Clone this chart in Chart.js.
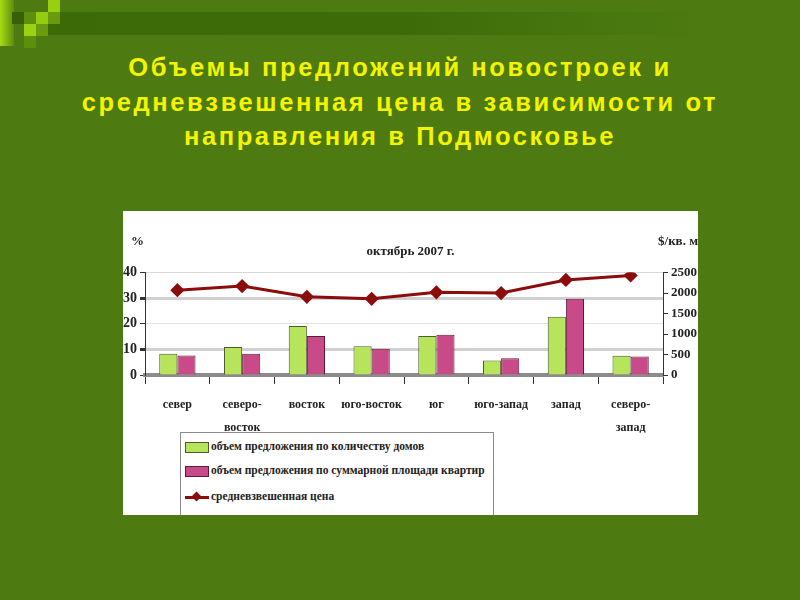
<!DOCTYPE html>
<html>
<head>
<meta charset="utf-8">
<script src="https://cdn.jsdelivr.net/npm/chart.js@4.4.1/dist/chart.umd.min.js"></script>
<style>
  html, body { margin: 0; padding: 0; }
  body { width: 800px; height: 600px; background: #4d7b12; position: relative; overflow: hidden; font-family: "Liberation Sans", Arial, sans-serif; }
  .band { position: absolute; left: 40px; top: 12px; width: 660px; height: 23px; background: linear-gradient(to right, #3b6a06 0%, #3d6b08 55%, #4d7b12 100%); }
  .sq { position: absolute; width: 12px; height: 12px; }
  .fade { position: absolute; left: 0; top: 0; width: 14px; height: 46px; background: linear-gradient(to right, #a6dc12, #5d8c10); }
  h1 { position: absolute; left: 0; top: 50px; width: 800px; margin: 0; text-align: center; color: #f4f400; font-size: 25.5px; letter-spacing: 2.6px; line-height: 34.5px; font-weight: bold; }
  .box { position: absolute; left: 123px; top: 211px; width: 575px; height: 304px; background: #fff; overflow: hidden; }
  .legend { position: absolute; left: 57px; top: 221px; width: 312px; height: 100px; border: 1px solid #8a8a8a; border-bottom: none; background: #fff;
    font-family: "Liberation Serif", serif; font-weight: bold; font-size: 11.5px; color: #222; }
  .legend div { position: absolute; left: 4px; white-space: nowrap; }
  .legend i { display: inline-block; vertical-align: middle; margin-right: 2px; }
</style>
</head>
<body>
<div class="band"></div>
<div class="fade"></div>
<div class="sq" style="left:48px;top:0;background:#98d010"></div>
<div class="sq" style="left:12px;top:12px;background:#386006"></div>
<div class="sq" style="left:24px;top:12px;background:#5d8e0c"></div>
<div class="sq" style="left:36px;top:12px;background:#96cc10"></div>
<div class="sq" style="left:48px;top:12px;background:#6a9a0e"></div>
<div class="sq" style="left:24px;top:24px;background:#9ad212"></div>
<div class="sq" style="left:36px;top:24px;background:#6a9a0e"></div>
<div class="sq" style="left:24px;top:36px;background:#5e8e0e"></div>

<h1>Объемы предложений новостроек и<br>средневзвешенная цена в зависимости от<br>направления в Подмосковье</h1>

<div class="box">
  <canvas id="chart" width="575" height="304"></canvas>
  <div class="legend" id="legend"></div>
</div>

<script>
const directions = [['север'], ['северо-', 'восток'], ['восток'], ['юго-восток'], ['юг'], ['юго-запад'], ['запад'], ['северо-', 'запад']];
const housesShare = [8.3, 10.9, 19.1, 11.2, 15.2, 5.7, 22.8, 7.5];
const areaShare = [7.6, 8.3, 15.2, 10.3, 15.7, 6.5, 29.8, 7.2];
const avgPrice = [2070, 2170, 1910, 1860, 2020, 2000, 2320, 2430];
const seriesNames = [
  'объем предложения по количеству домов',
  'объем предложения по суммарной площади квартир',
  'средневзвешенная цена'
];

const serif = '"Liberation Serif", "Times New Roman", serif';

const sideTexts = {
  id: 'sideTexts',
  afterDraw(chart) {
    const ctx = chart.ctx;
    ctx.save();
    ctx.fillStyle = '#222';
    ctx.font = 'bold 13px ' + serif;
    ctx.textBaseline = 'middle';
    ctx.textAlign = 'left';
    ctx.fillText('%', 8, 31);
    ctx.textAlign = 'right';
    ctx.fillText('$/кв. м', 575, 31);
    ctx.restore();
  }
};

const gridColor = (c) => {
  if (c.tick.value === 10 || c.tick.value === 30) return '#d0d0d0';
  if (c.tick.value === 20) return '#e0e0e0';
  if (c.tick.value === 0) return 'rgba(0,0,0,0)';
  return '#d8d8d8';
};

const chart = new Chart(document.getElementById('chart'), {
  type: 'bar',
  data: {
    labels: directions,
    datasets: [
      {
        type: 'line',
        label: seriesNames[2],
        data: avgPrice,
        yAxisID: 'y2',
        borderColor: '#8c0c0c',
        backgroundColor: '#8c0c0c',
        borderWidth: 3,
        pointStyle: 'rectRot',
        pointRadius: 5,
        tension: 0,
        order: 0
      },
      {
        label: seriesNames[0],
        data: housesShare,
        yAxisID: 'y',
        backgroundColor: '#b6e45a',
        borderColor: '#4f5a30',
        borderWidth: 1,
        order: 1
      },
      {
        label: seriesNames[1],
        data: areaShare,
        yAxisID: 'y',
        backgroundColor: '#c94a88',
        borderColor: '#5e1a3a',
        borderWidth: 1,
        order: 1
      }
    ]
  },
  options: {
    responsive: false,
    animation: false,
    layout: { padding: { left: 0, right: 0, top: 0, bottom: 0 } },
    datasets: { bar: { categoryPercentage: 0.56, barPercentage: 1.0 } },
    plugins: {
      legend: { display: false },
      tooltip: { enabled: false },
      title: {
        display: true,
        text: 'октябрь 2007 г.',
        color: '#222',
        font: { family: serif, size: 13, weight: 'bold' },
        padding: { top: 33, bottom: 13 }
      }
    },
    scales: {
      x: {
        offset: true,
        grid: { offset: true, drawOnChartArea: false, drawTicks: true, tickLength: 9, color: '#333', lineWidth: 1 },
        border: { color: '#8c8c8c', width: 4 },
        ticks: { color: '#222', font: { family: serif, size: 12, weight: 'bold', lineHeight: 1.9 }, padding: 10, maxRotation: 0, autoSkip: false },
        afterFit(scale) { scale.height = 140; }
      },
      y: {
        position: 'left',
        min: 0, max: 40,
        ticks: { stepSize: 10, color: '#222', font: { family: serif, size: 14, weight: 'bold' }, padding: 3 },
        grid: { color: gridColor, lineWidth: (c) => (c.tick.value === 10 || c.tick.value === 30) ? 3 : 1, tickLength: 5, tickColor: '#333' },
        border: { color: '#333', width: 1 },
        afterFit(scale) { scale.width = 22; }
      },
      y2: {
        position: 'right',
        min: 0, max: 2500,
        ticks: { stepSize: 500, color: '#222', font: { family: serif, size: 13, weight: 'bold' }, padding: 3, callback: (v) => String(v) },
        grid: { drawOnChartArea: false, tickLength: 5, color: '#333' },
        border: { color: '#333', width: 1 },
        afterFit(scale) { scale.width = 35; }
      }
    }
  },
  plugins: [sideTexts]
});

// legend in its own box, like the picture
const legendEl = document.getElementById('legend');
const marks = [
  '<i style="width:22px;height:9px;background:#b6e45a;border:1px solid #4f5a30"></i>',
  '<i style="width:22px;height:9px;background:#c94a88;border:1px solid #5e1a3a"></i>',
  '<i style="width:24px;height:3px;background:#8c0c0c;position:relative"><b style="position:absolute;left:8px;top:-3px;width:7px;height:7px;background:#8c0c0c;transform:rotate(45deg)"></b></i>'
];
const rows = [7, 31, 57];
seriesNames.forEach(function (name, i) {
  const d = document.createElement('div');
  d.style.top = rows[i] + 'px';
  d.innerHTML = marks[i] + name;
  legendEl.appendChild(d);
});
</script>
</body>
</html>
